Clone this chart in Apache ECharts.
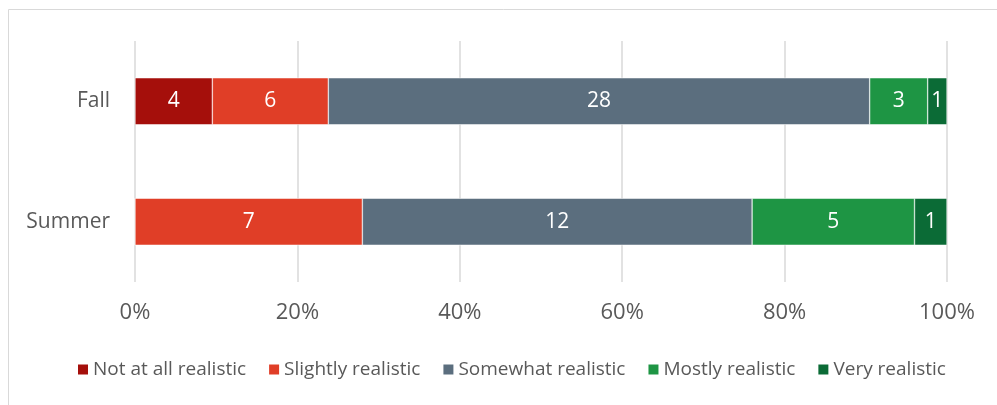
<!DOCTYPE html>
<html>
<head>
<meta charset="utf-8">
<script src="https://cdn.jsdelivr.net/npm/echarts@6/dist/echarts.min.js"></script>
<style>
    html, body { margin: 0; padding: 0; background: #fff; }
    #chart { width: 997px; height: 405px; }
</style>
</head>
<body>
<div id="chart"></div>
<script>
// categories top to bottom
var categories = ['Fall', 'Summer'];
var seriesNames = ['Not at all realistic', 'Slightly realistic', 'Somewhat realistic', 'Mostly realistic', 'Very realistic'];
var colors = ['#A50F0B', '#E03E27', '#5B6E7E', '#1E9544', '#0B6B36'];
// counts per series, in order [Fall, Summer]
var notAtAll = [4, 0];
var slightly = [6, 7];
var somewhat = [28, 12];
var mostly = [3, 5];
var very = [1, 1];
var xTicks = [0, 20, 40, 60, 80, 100];

var counts = [notAtAll, slightly, somewhat, mostly, very];
var totals = categories.map(function (c, i) {
    return counts.reduce(function (s, arr) { return s + arr[i]; }, 0);
});

var chart = echarts.init(document.getElementById('chart'));
var font = '"Open Sans", Lato, sans-serif';

chart.setOption({
    animation: false,
    textStyle: { fontFamily: font },
    graphic: [{
        type: 'rect',
        shape: { x: 8.5, y: 9.5, width: 1000, height: 400 },
        style: { fill: 'none', stroke: '#d9d9d9', lineWidth: 1 },
        silent: true
    }],
    grid: { left: 135, right: 50, top: 41, bottom: 123 },
    legend: {
        bottom: 21,
        left: 71,
        itemWidth: 12,
        itemHeight: 12,
        itemGap: 21,
        icon: 'rect',
        textStyle: { color: '#595959', fontSize: 19, fontFamily: font, padding: [0, 0, 0, -1] },
        data: seriesNames
    },
    xAxis: {
        type: 'value',
        min: 0,
        max: 100,
        interval: 20,
        axisLine: { show: false },
        axisTick: { show: false },
        splitLine: { lineStyle: { color: '#d9d9d9', width: 1.5 } },
        axisLabel: {
            color: '#595959',
            fontSize: 22,
            margin: 20,
            formatter: function (v) { return xTicks.indexOf(v) >= 0 ? v + '%' : ''; }
        }
    },
    yAxis: {
        type: 'category',
        inverse: true,
        data: categories,
        axisLine: { show: false },
        axisTick: { show: false },
        axisLabel: { color: '#595959', fontSize: 21, margin: 25 }
    },
    series: seriesNames.map(function (name, k) {
        return {
            name: name,
            type: 'bar',
            stack: 'total',
            barWidth: 47,
            itemStyle: { color: colors[k], borderColor: '#ffffff', borderWidth: 0.5 },
            label: {
                show: true,
                position: 'inside',
                color: '#ffffff',
                fontSize: 21,
                fontFamily: font,
                formatter: function (p) { return counts[k][p.dataIndex] ? String(counts[k][p.dataIndex]) : ''; }
            },
            data: counts[k].map(function (v, i) { return v / totals[i] * 100; })
        };
    })
});
</script>
</body>
</html>
